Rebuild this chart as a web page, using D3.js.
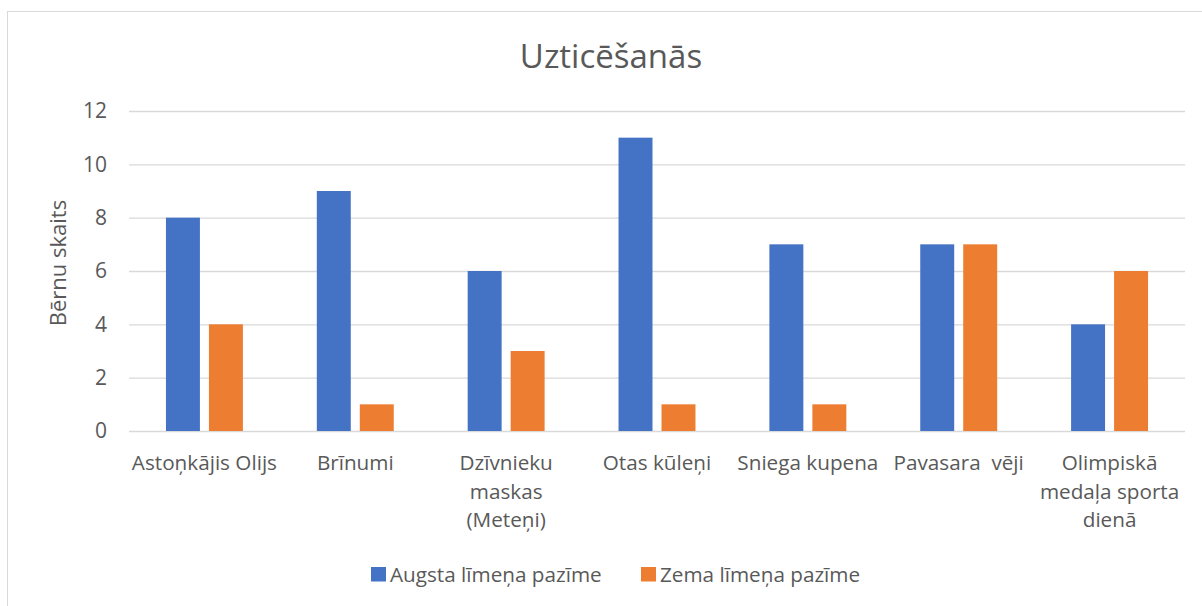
<!DOCTYPE html>
<html>
<head>
<meta charset="utf-8">
<script src="https://cdn.jsdelivr.net/npm/d3@7"></script>
<style>
  body { margin: 0; background: #fff; }
  text { font-family: "Open Sans", sans-serif; fill: #595959; }
</style>
</head>
<body>
<svg width="1202" height="606"></svg>
<script>
const categories = [
  'Astoņkājis Olijs',
  'Brīnumi',
  'Dzīvnieku\nmaskas\n(Meteņi)',
  'Otas kūleņi',
  'Sniega kupena',
  'Pavasara  vēji',
  'Olimpiskā\nmedaļa sporta\ndienā'
];
const seriesNames = ['Augsta līmeņa pazīme', 'Zema līmeņa pazīme'];
const highValues = [8, 9, 6, 11, 7, 7, 4];
const lowValues = [4, 1, 3, 1, 1, 7, 6];
const yTicks = [0, 2, 4, 6, 8, 10, 12];
const colors = ['#4472C4', '#ED7D31'];

function plotChart() {
  const svg = d3.select('svg');
  const left = 129;
  const right = 1185;
  const top = 111;
  const bottom = 431;

  // chart border
  svg.append('rect')
      .attr('x', 7.5)
      .attr('y', 11.5)
      .attr('width', 1220)
      .attr('height', 620)
      .attr('fill', 'none')
      .attr('stroke', '#d9d9d9');

  svg.append('text')
      .attr('x', 611)
      .attr('y', 68)
      .attr('text-anchor', 'middle')
      .style('font-size', '33px')
      .text('Uzticēšanās');

  const xScale = d3.scaleBand()
      .domain(d3.range(categories.length))
      .range([left, right])
      .paddingInner(0.49)
      .paddingOuter(0.245);
  const subScale = d3.scaleBand()
      .domain([0, 1])
      .range([0, xScale.bandwidth()])
      .paddingInner(0.21);
  const yScale = d3.scaleLinear()
      .domain([0, 12])
      .range([bottom, top]);

  const yAxis = d3.axisLeft()
      .scale(yScale)
      .tickValues(yTicks)
      .tickSize(-(right - left))
      .tickPadding(22);
  const yAxisG = svg.append('g')
      .attr('id', 'yAxisG')
      .attr('transform', `translate(${left}, 0)`)
      .call(yAxis);
  yAxisG.select('.domain').remove();
  yAxisG.selectAll('line')
      .attr('stroke', '#d9d9d9')
      .attr('stroke-width', 1.3);
  yAxisG.selectAll('text')
      .style('font-size', '21px')
      .attr('fill', '#595959');

  svg.append('text')
      .attr('transform', `translate(66, 263) rotate(-90)`)
      .attr('text-anchor', 'middle')
      .style('font-size', '22px')
      .text('Bērnu skaits');

  const seriesData = [highValues, lowValues];
  seriesData.forEach((values, s) => {
    svg.append('g')
        .selectAll('rect')
        .data(values)
        .join('rect')
        .attr('x', (d, i) => xScale(i) + subScale(s))
        .attr('y', d => yScale(d))
        .attr('width', subScale.bandwidth())
        .attr('height', d => yScale(0) - yScale(d))
        .attr('fill', colors[s]);
  });

  // category labels
  const step = xScale.step();
  categories.forEach((label, i) => {
    const cx = left + step * (i + 0.5);
    const t = svg.append('text')
        .attr('x', cx)
        .attr('y', 470)
        .attr('text-anchor', 'middle')
        .style('font-size', '20.7px')
        .style('white-space', 'pre');
    label.split('\n').forEach((line, j) => {
      t.append('tspan')
          .attr('x', cx)
          .attr('dy', j === 0 ? 0 : 28.5)
          .text(line);
    });
  });

  // legend
  const legendX = [371, 641];
  seriesNames.forEach((name, s) => {
    svg.append('rect')
        .attr('x', legendX[s])
        .attr('y', 567)
        .attr('width', 15)
        .attr('height', 14.5)
        .attr('fill', colors[s]);
    svg.append('text')
        .attr('x', legendX[s] + 19)
        .attr('y', 582)
        .style('font-size', '20.7px')
        .text(name);
  });
}

plotChart();
</script>
</body>
</html>
